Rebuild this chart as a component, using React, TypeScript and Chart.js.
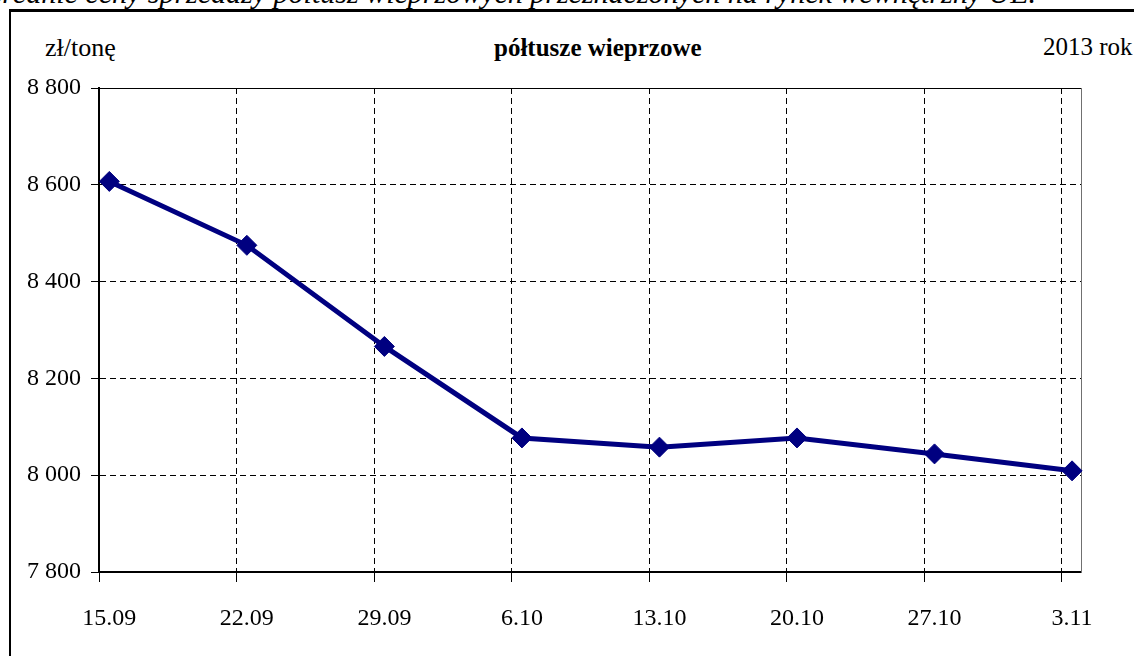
import React, { useEffect, useRef } from 'react';
import { Chart, registerables } from 'chart.js';

Chart.register(...registerables);

// ---- data ----
const categories: string[] = ['15.09', '22.09', '29.09', '6.10', '13.10', '20.10', '27.10', '3.11'];
const prices: number[] = [8607, 8475, 8266, 8077, 8058, 8077, 8044, 8009];
const yTickValues: number[] = [7800, 8000, 8200, 8400, 8600, 8800];
const chartTitle = 'półtusze wieprzowe';
const unitLabel = 'zł/tonę';
const yearLabel = '2013 rok';
const caption = 'Średnie ceny sprzedaży półtusz wieprzowych przeznaczonych na rynek wewnętrzny UE.';

const SERIF = "'Liberation Serif', 'Times New Roman', serif";
const LINE_COLOR = '#000080';
const BOUNDARY_SHIFT = 0.075; // category boundaries sit slightly left of the points

const fmt = (v: number) => String(v).replace(/\B(?=(\d{3})+(?!\d))/g, ' ');
const isCategory = (v: number) => Math.abs(v - Math.round(v)) < 1e-6;

Chart.defaults.font.family = SERIF;

export default function App() {
  const canvasRef = useRef<HTMLCanvasElement | null>(null);

  useEffect(() => {
    if (!canvasRef.current) return;
    const chart = new Chart(canvasRef.current, {
      type: 'line',
      data: {
        datasets: [
          {
            label: chartTitle,
            data: prices.map((v, i) => ({ x: i, y: v })),
            borderColor: LINE_COLOR,
            backgroundColor: LINE_COLOR,
            borderWidth: 5,
            tension: 0,
            pointStyle: 'rectRot',
            pointRadius: 10,
            pointBorderWidth: 1,
            pointBackgroundColor: LINE_COLOR,
            pointBorderColor: LINE_COLOR,
            clip: false as any,
          },
        ],
      },
      options: {
        animation: false,
        responsive: true,
        maintainAspectRatio: false,
        layout: { padding: { left: 0, top: 88, right: 53, bottom: 0 } },
        plugins: {
          legend: { display: false },
          tooltip: { enabled: false },
          title: { display: false },
        },
        scales: {
          x: {
            type: 'linear',
            position: 'bottom',
            min: -BOUNDARY_SHIFT,
            max: categories.length - 1 + 0.065,
            afterBuildTicks: (scale: any) => {
              const vals: number[] = [];
              categories.forEach((_, i) => {
                vals.push(i - BOUNDARY_SHIFT);
                vals.push(i);
              });
              vals.sort((a, b) => a - b);
              scale.ticks = vals.map((v) => ({ value: v }));
            },
            afterFit: (scale: any) => {
              scale.height = 84;
            },
            ticks: {
              autoSkip: false,
              maxRotation: 0,
              minRotation: 0,
              padding: 22,
              color: '#000',
              font: { family: SERIF, size: 24, lineHeight: 1.2 },
              callback: (value: any) => {
                const v = Number(value);
                return isCategory(v) ? categories[Math.round(v)] : '';
              },
            },
            grid: {
              display: true,
              drawOnChartArea: true,
              drawTicks: true,
              tickLength: 10,
              lineWidth: 1,
              color: (ctx: any) =>
                ctx.tick && isCategory(ctx.tick.value) ? 'rgba(0,0,0,0)' : '#000',
              tickColor: (ctx: any) =>
                ctx.tick && isCategory(ctx.tick.value) ? 'rgba(0,0,0,0)' : '#000',
              tickBorderDash: [],
            } as any,
            border: { display: true, color: '#000', width: 2, dash: [6, 4] } as any,
          },
          xTop: {
            type: 'linear',
            position: 'top',
            min: 0,
            max: 1,
            ticks: { display: false },
            grid: { display: false },
            border: { display: true, color: '#000', width: 1 },
            afterFit: (scale: any) => {
              scale.height = 0;
            },
          },
          y: {
            type: 'linear',
            position: 'left',
            min: yTickValues[0],
            max: yTickValues[yTickValues.length - 1],
            afterBuildTicks: (scale: any) => {
              scale.ticks = yTickValues.map((v) => ({ value: v }));
            },
            afterFit: (scale: any) => {
              scale.width = 99;
            },
            ticks: {
              padding: 10,
              color: '#000',
              font: { family: SERIF, size: 24 },
              callback: (value: any) => fmt(Number(value)),
            },
            grid: {
              display: true,
              drawOnChartArea: true,
              drawTicks: true,
              tickLength: 8,
              lineWidth: 1,
              color: '#000',
              tickColor: '#000',
              tickBorderDash: [],
            } as any,
            border: { display: true, color: '#000', width: 2, dash: [6, 4] } as any,
          },
          yRight: {
            type: 'linear',
            position: 'right',
            min: 0,
            max: 1,
            ticks: { display: false },
            grid: { display: false },
            border: { display: true, color: '#707070', width: 1 },
            afterFit: (scale: any) => {
              scale.width = 0;
            },
          },
        },
      } as any,
    });
    return () => {
      chart.destroy();
    };
  }, []);

  const textBase: React.CSSProperties = {
    position: 'absolute',
    fontFamily: SERIF,
    fontSize: 25,
    lineHeight: '28px',
    color: '#000',
    whiteSpace: 'nowrap',
  };

  return (
    <div
      style={{
        position: 'fixed',
        left: 0,
        top: 0,
        width: 1134,
        height: 656,
        overflow: 'hidden',
        background: '#fff',
      }}
    >
      <div
        style={{
          ...textBase,
          right: 1134 - 1036,
          top: -24,
          textAlign: 'right',
          fontStyle: 'italic',
          fontSize: 30,
          lineHeight: '34px',
        }}
      >
        {caption}
      </div>
      <div
        style={{
          position: 'absolute',
          left: 9,
          top: 9,
          width: 1200,
          height: 700,
          borderLeft: '2px solid #000',
          borderTop: '3px solid #000',
        }}
      />
      <div style={{ ...textBase, left: 45, top: 34, fontSize: 26 }}>{unitLabel}</div>
      <div style={{ ...textBase, left: 494, top: 34, fontWeight: 'bold' }}>{chartTitle}</div>
      <div style={{ ...textBase, left: 1043, top: 33 }}>{yearLabel}</div>
      <div style={{ position: 'absolute', left: 0, top: 0, width: 1134, height: 656 }}>
        <canvas ref={canvasRef} />
      </div>
    </div>
  );
}
